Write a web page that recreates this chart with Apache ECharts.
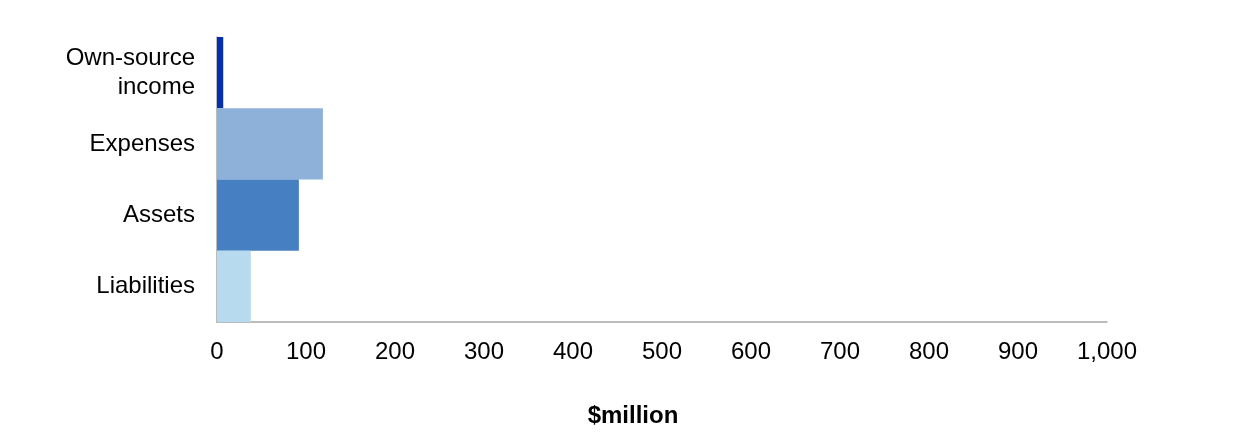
<!DOCTYPE html>
<html>
<head>
<meta charset="utf-8">
<script src="https://cdn.jsdelivr.net/npm/echarts@6/dist/echarts.min.js"></script>
<style>
  html, body { margin: 0; padding: 0; background: #fff; }
  #myChart { width: 1240px; height: 439px; }
</style>
</head>
<body>
<div id="myChart"></div>
<script>
// data, top to bottom
var categories = ['Own-source\nincome', 'Expenses', 'Assets', 'Liabilities'];
var values = [7, 119, 92, 38];
var barColors = ['#0530AD', '#8EB1DA', '#4680C2', '#B7DAEE'];
var xTicks = [0, 100, 200, 300, 400, 500, 600, 700, 800, 900, 1000];

var dom = document.getElementById('myChart');
var myChart = echarts.init(dom);

var option = {
    animation: false,
    grid: {
        left: 217,
        right: 133,
        top: 37,
        bottom: 117
    },
    xAxis: {
        type: 'value',
        min: xTicks[0],
        max: xTicks[xTicks.length - 1],
        interval: 100,
        name: '$million',
        nameLocation: 'middle',
        nameGap: 82,
        nameTextStyle: {
            color: '#000',
            fontSize: 24,
            fontWeight: 'bold',
            fontFamily: 'Liberation Sans',
            padding: [0, 58, 0, 0]
        },
        axisLine: { show: true, lineStyle: { color: '#A6A6A6', width: 1.5 } },
        axisTick: { show: false },
        splitLine: { show: false },
        axisLabel: {
            color: '#000',
            fontSize: 24,
            fontFamily: 'Liberation Sans',
            margin: 18,
            formatter: function (v) {
                return v.toLocaleString('en-US');
            }
        }
    },
    yAxis: {
        type: 'category',
        inverse: true,
        data: categories,
        axisLine: { show: true, lineStyle: { color: '#A6A6A6', width: 1.5 } },
        axisTick: { show: false },
        axisLabel: {
            color: '#000',
            fontSize: 24,
            lineHeight: 29,
            fontFamily: 'Liberation Sans',
            margin: 22,
            align: 'right'
        }
    },
    series: [{
        type: 'bar',
        barCategoryGap: 0,
        data: values.map(function (v, i) {
            return { value: v, itemStyle: { color: barColors[i] } };
        })
    }]
};
myChart.setOption(option, true);
</script>
</body>
</html>
